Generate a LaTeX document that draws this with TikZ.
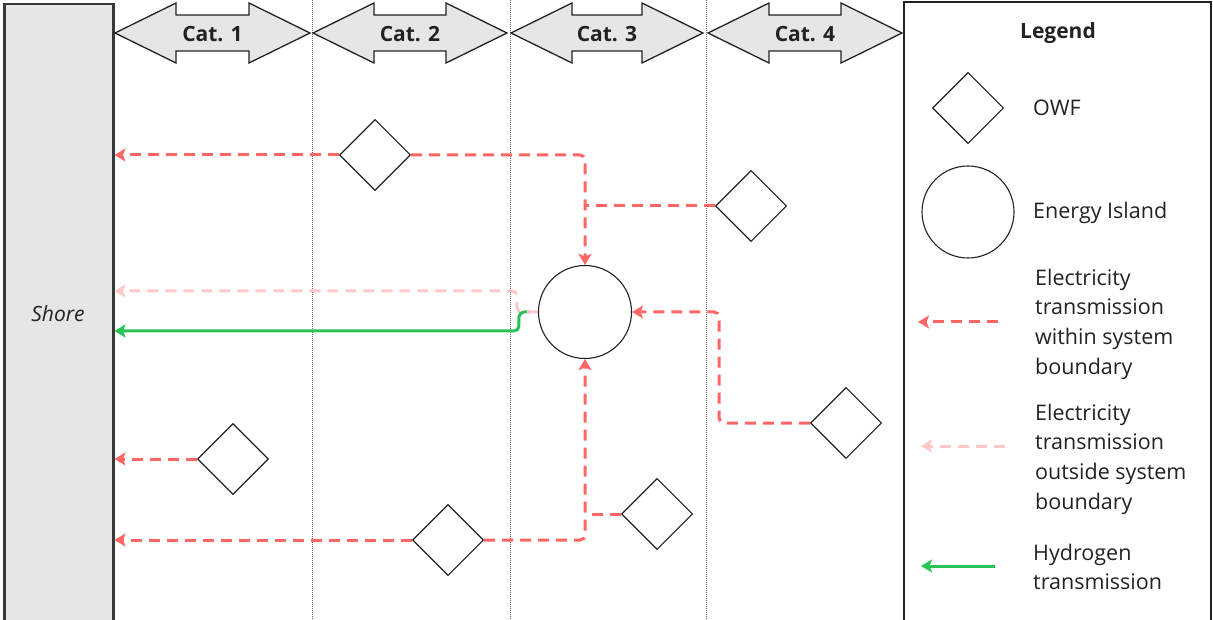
\documentclass[tikz,border=0pt]{standalone}
\usepackage{fontspec}
\setmainfont{Open Sans}
\usetikzlibrary{arrows.meta,shapes.geometric}
\definecolor{elec}{RGB}{255,102,102}
\definecolor{elecout}{RGB}{255,200,200}
\definecolor{hydro}{RGB}{40,195,85}
\definecolor{shoregray}{RGB}{230,230,230}
\definecolor{ink}{RGB}{34,34,34}

\newcommand\legfont{\fontsize{21.5}{29.7}\selectfont}

\begin{document}
\begin{tikzpicture}[x=1pt,y=-1pt,
  owf/.style={draw=ink, line width=1.1pt, shape=diamond, minimum size=71pt, inner sep=0pt},
  island/.style={draw=ink, line width=1.1pt, circle, minimum size=93pt, inner sep=0pt},
  tiphead/.style={-{Stealth[length=11pt,width=13pt,inset=2.5pt]}},
  elecbase/.style={draw=elec, line width=3pt, dash pattern=on 11pt off 7pt, rounded corners=5pt},
  elecline/.style={elecbase, tiphead},
  outline/.style={draw=elecout, line width=3pt, dash pattern=on 11pt off 7pt, rounded corners=5pt, tiphead},
  h2line/.style={draw=hydro, line width=3pt, rounded corners=5pt, tiphead},
  divider/.style={draw=black!60, line width=0.8pt, dash pattern=on 1pt off 1pt},
  catbar/.style={draw=ink, fill=shoregray, line width=1.3pt, line join=miter},
  catlabel/.style={font=\fontsize{21}{24}\selectfont\bfseries, text=ink},
  shorebox/.style={draw=ink!90, fill=shoregray, line width=2.5pt, inner sep=0pt},
  legtext/.style={font=\legfont, text=ink, anchor=west, align=left, inner sep=0pt},
]
\useasboundingbox (0,0) rectangle (1213,620);

% shore strip and legend frame
\node[shorebox, anchor=north west, minimum width=109pt, minimum height=660pt] (shore) at (3,3) {};
\node[font=\fontsize{21}{24}\selectfont\itshape, text=ink] (shorelbl) at (58,314) {Shore};
\draw[ink, line width=1.4pt] (904,2) rectangle (1211,660);

% category dividers
\foreach \xd in {312,510,706} \draw[divider] (\xd,0) -- (\xd,620);

% category double arrows
\foreach \a/\b/\t in {115/310/1, 313/507/2, 511/703/3, 708/902/4} {
  \draw[catbar] (\a,33) -- ({\a+61},3) -- ({\a+61},15) -- ({\b-61},15) -- ({\b-61},3)
    -- (\b,33) -- ({\b-61},63) -- ({\b-61},51) -- ({\a+61},51) -- ({\a+61},63) -- cycle;
  \node[catlabel] (cat\t) at ({(\a+\b)/2},34) {Cat. \t};
}

% wind farms and energy island
\node[owf] (d1) at (375,155) {};
\node[owf] (d2) at (751,206) {};
\node[owf] (d3) at (846,423) {};
\node[owf] (d4) at (233,459) {};
\node[owf] (d5) at (448,540) {};
\node[owf] (d6) at (657,514) {};
\node[island] (isl) at (585,312) {};

% electricity links
\draw[elecline] (d1.west) -- (shore.east |- d1.west);
\draw[elecline] (d1.east) -| (isl.north);
\draw[elecbase] (d2.west) -- (isl.north |- d2.west);
\path (isl.east) ++(87,0) coordinate (bend3);
\draw[elecline] (d3.west) -| (bend3) -- (isl.east);
\draw[elecline] (d4.west) -- (shore.east |- d4.west);
\draw[elecline] (d5.west) -- (shore.east |- d5.west);
\draw[elecline] (d5.east) -| (isl.south);
\draw[elecbase] (d6.west) -- (isl.south |- d6.west);

% island to shore: hydrogen and electricity outside the boundary
\path (isl.west) ++(-19,19) coordinate (bendh2);
\draw[h2line, shorten <=9pt] (isl.west) -| (bendh2) -- (shore.east |- bendh2);
\path (isl.west) ++(-21,-21) coordinate (bendout);
\draw[outline] (isl.west) -| (bendout) -- (shore.east |- bendout);

% legend
\node[font=\fontsize{21}{24}\selectfont\bfseries, text=ink] (legtitle) at (1058,33) {Legend};
\node[owf] (legowf) at (968,108) {};
\node[legtext] (legowftxt) at (1033,108) {OWF};
\node[island, minimum size=92pt] (legisl) at (968,212) {};
\node[legtext] (legisltxt) at (1033,213) {Energy Island};

\coordinate (le1s) at (998,322);
\coordinate (le1e) at (918,322);
\draw[elecline] (le1s) -- (le1e);
\node[legtext] (legin) at (1035,324) {Electricity\\transmission\\within system\\boundary};

\coordinate (le2s) at (1005,446);
\coordinate (le2e) at (921,446);
\draw[outline] (le2s) -- (le2e);
\node[legtext] (legout) at (1035,459) {Electricity\\transmission\\outside system\\boundary};

\coordinate (le3s) at (995,566);
\coordinate (le3e) at (921,566);
\draw[h2line] (le3s) -- (le3e);
\node[legtext] (legh2) at (1033,567) {Hydrogen\\transmission};
\end{tikzpicture}
\end{document}
